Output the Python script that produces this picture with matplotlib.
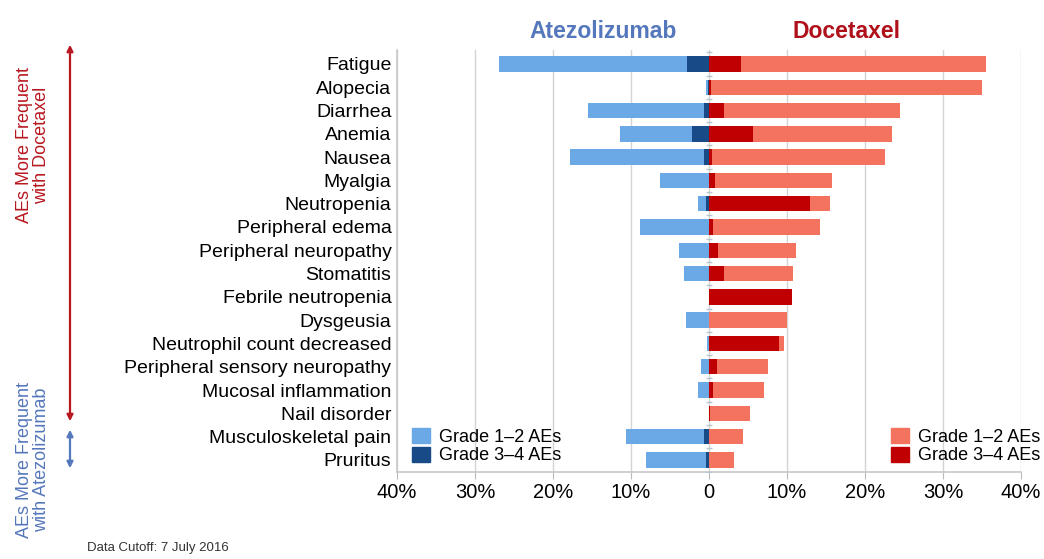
import matplotlib
matplotlib.use("Agg")
import matplotlib.pyplot as plt
from matplotlib.patches import Patch
import numpy as np

plt.rcParams['font.family'] = ['Liberation Sans', 'DejaVu Sans']

categories = ["Fatigue", "Alopecia", "Diarrhea", "Anemia", "Nausea", "Myalgia",
              "Neutropenia", "Peripheral edema", "Peripheral neuropathy", "Stomatitis",
              "Febrile neutropenia", "Dysgeusia", "Neutrophil count decreased",
              "Peripheral sensory neuropathy", "Mucosal inflammation", "Nail disorder",
              "Musculoskeletal pain", "Pruritus"]

# percentages of patients (total any grade 1-4, and grade 3-4 part)
atezo_total = [26.9, 0.4, 15.5, 11.4, 17.8, 6.3, 1.4, 8.8, 3.8, 3.2, 0.0, 3.0, 0.2, 1.0, 1.4, 0.0, 10.6, 8.1]
atezo_g34   = [2.8, 0.1, 0.6, 2.2, 0.6, 0.0, 0.4, 0.0, 0.0, 0.0, 0.0, 0.0, 0.0, 0.0, 0.0, 0.0, 0.6, 0.4]
doce_total  = [35.5, 35.0, 24.5, 23.4, 22.6, 15.8, 15.5, 14.2, 11.2, 10.8, 10.7, 10.0, 9.6, 7.6, 7.1, 5.3, 4.4, 3.2]
doce_g34    = [4.1, 0.2, 1.9, 5.7, 0.4, 0.8, 13.0, 0.5, 1.2, 1.9, 10.7, 0.0, 9.0, 1.0, 0.5, 0.1, 0.0, 0.0]

xticks = [-40, -30, -20, -10, 0, 10, 20, 30, 40]
xtick_labels = ["40%", "30%", "20%", "10%", "0", "10%", "20%", "30%", "40%"]

c_blue_light = "#6aa8e6"
c_blue_dark = "#174a86"
c_red_light = "#f4735f"
c_red_dark = "#c00000"

fig = plt.figure(figsize=(10.44, 5.59), dpi=100)
ax = fig.add_axes([397/1044, 1 - 472/559, (1021-397)/1044, (472-50)/559])

y = np.arange(len(categories))
at = np.array(atezo_total); a34 = np.array(atezo_g34)
dt = np.array(doce_total); d34 = np.array(doce_g34)
h = 0.66
ax.barh(y, -a34, height=h, color=c_blue_dark, zorder=3)
ax.barh(y, -(at - a34), left=-a34, height=h, color=c_blue_light, zorder=3)
ax.barh(y, d34, height=h, color=c_red_dark, zorder=3)
ax.barh(y, dt - d34, left=d34, height=h, color=c_red_light, zorder=3)

ax.set_xlim(-40, 40)
ax.set_ylim(len(categories) - 0.48, -0.6)
ax.set_yticks(y)
ax.set_yticklabels(categories, fontsize=14)
ax.set_xticks(xticks)
ax.set_xticklabels(xtick_labels, fontsize=14.5)
ax.tick_params(axis='y', length=0, pad=4)
ax.tick_params(axis='x', length=5, color="#bbbbbb", pad=3)
ax.grid(axis='x', color="#d4d4d4", linewidth=1, zorder=0)
for s in ['top', 'right']:
    ax.spines[s].set_visible(False)
for s in ['left', 'bottom']:
    ax.spines[s].set_color("#c8c8c8")
    ax.spines[s].set_linewidth(1.2)

# small tick marks on zero line between rows
ax.plot(np.zeros(len(categories) + 1), np.arange(len(categories) + 1) - 0.5,
        linestyle='none', marker='_', markersize=5, color="#b8c4d0", zorder=4)

fig.text(603/1044, 1 - 31/559, "Atezolizumab", color="#5577bb", fontsize=16.5,
         fontweight='bold', ha='center', va='center')
fig.text(846/1044, 1 - 31/559, "Docetaxel", color="#b0101a", fontsize=16.5,
         fontweight='bold', ha='center', va='center')

leg_kw = dict(loc='upper left', bbox_transform=fig.transFigure, frameon=False, fontsize=13,
              handlelength=1.0, handleheight=0.9, handletextpad=0.5,
              labelspacing=0.05, borderpad=0, borderaxespad=0)
leg1 = ax.legend(handles=[Patch(color=c_blue_light, label="Grade 1–2 AEs"),
                          Patch(color=c_blue_dark, label="Grade 3–4 AEs")],
                 bbox_to_anchor=(412/1044, 1 - 428/559), **leg_kw)
ax.add_artist(leg1)
ax.legend(handles=[Patch(color=c_red_light, label="Grade 1–2 AEs"),
                   Patch(color=c_red_dark, label="Grade 3–4 AEs")],
          bbox_to_anchor=(891/1044, 1 - 428/559), **leg_kw)

# left-side arrows
x_ar = 70/1044
fig.add_artist(matplotlib.patches.FancyArrowPatch(
    (x_ar, 1 - 42/559), (x_ar, 1 - 424/559), transform=fig.transFigure,
    arrowstyle='<|-|>', mutation_scale=9, color="#b81820", linewidth=1.6))
fig.add_artist(matplotlib.patches.FancyArrowPatch(
    (x_ar, 1 - 427/559), (x_ar, 1 - 471/559), transform=fig.transFigure,
    arrowstyle='<|-|>', mutation_scale=9, color="#5577bb", linewidth=1.6))

fig.text(33/1044, 1 - 145/559, "AEs More Frequent\nwith Docetaxel", color="#b81820",
         fontsize=13, rotation=90, ha='center', va='center', multialignment='center',
         linespacing=1.05)
fig.text(33/1044, 1 - 460/559, "AEs More Frequent\nwith Atezolizumab", color="#5577bb",
         fontsize=13, rotation=90, ha='center', va='center', multialignment='center',
         linespacing=1.05)

fig.text(87/1044, 1 - 548/559, "Data Cutoff: 7 July 2016", fontsize=9.5, color="#333333",
         ha='left', va='center')

fig.savefig("out.png", dpi=100)
